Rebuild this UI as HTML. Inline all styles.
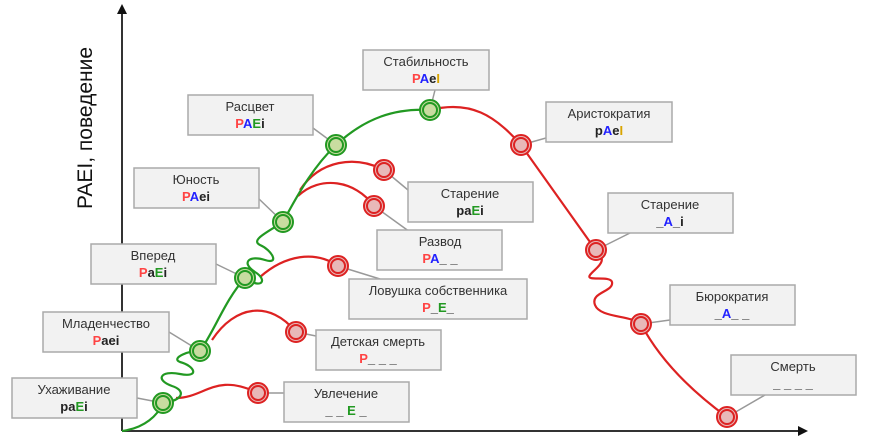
<!DOCTYPE html>
<html><head><meta charset="utf-8"><style>
body{margin:0;background:#fff}
svg text{font-family:"Liberation Sans","DejaVu Sans",sans-serif}
</style></head><body>
<svg width="871" height="440" viewBox="0 0 871 440" xmlns="http://www.w3.org/2000/svg">
<defs>
<marker id="ar" markerWidth="10" markerHeight="10" refX="8" refY="5" orient="auto" markerUnits="userSpaceOnUse"><path d="M0,0 L10,5 L0,10 Z" fill="#111"/></marker>
</defs>
<!-- axes -->
<line x1="122" y1="431" x2="122" y2="6" stroke="#333" stroke-width="2" marker-end="url(#ar)"/>
<line x1="122" y1="431" x2="806" y2="431" stroke="#333" stroke-width="2" marker-end="url(#ar)"/>
<text transform="translate(92,128) rotate(-90)" font-size="21" text-anchor="middle" fill="#111">PAEI, поведение</text>

<!-- connectors -->
<g stroke="#999" stroke-width="1.5">
<line x1="137" y1="398" x2="163" y2="403"/>
<line x1="169" y1="332" x2="200" y2="351"/>
<line x1="216" y1="264" x2="245" y2="278"/>
<line x1="258" y1="198" x2="283" y2="222"/>
<line x1="313" y1="128" x2="336" y2="145"/>
<line x1="435" y1="90" x2="430" y2="110"/>
<line x1="546" y1="138" x2="521" y2="145"/>
<line x1="384" y1="170" x2="408" y2="190"/>
<line x1="374" y1="206" x2="410" y2="232"/>
<line x1="338" y1="266" x2="380" y2="279"/>
<line x1="296" y1="332" x2="316" y2="336"/>
<line x1="258" y1="393" x2="284" y2="393"/>
<line x1="596" y1="250" x2="630" y2="233"/>
<line x1="641" y1="324" x2="670" y2="320"/>
<line x1="727" y1="417" x2="765" y2="395"/>
</g>

<!-- red branches -->
<g fill="none" stroke="#d22" stroke-width="2.2">
<path d="M176,398 C205,398 215,372 258,393"/>
<path d="M212,340 C235,305 270,300 296,332"/>
<path d="M260,277 C285,255 315,250 338,266"/>
<path d="M300,190 C320,160 355,155 384,170"/>
<path d="M298,196 C320,175 355,180 374,206"/>
<path d="M430,110 C470,100 495,115 521,145 L590,242"/>
<path d="M596,250 C610,262 595,268 590,275 C585,282 610,275 612,282 C614,292 590,292 595,305 C600,318 630,315 641,324"/>
<path d="M641,324 C660,360 690,390 727,417"/>
</g>
<!-- green main -->
<g fill="none" stroke="#229922" stroke-width="2.2">
<path d="M122,431 C145,428 158,415 163,403"/>
<path d="M163,403 C185,400 185,390 172,386 C155,380 160,370 180,374 C200,378 195,366 180,362 C170,358 190,350 200,351"/>
<path d="M200,351 C215,330 225,300 245,278"/>
<path d="M245,278 C262,290 268,280 255,272 C240,262 250,255 265,260 C280,265 272,250 260,245 C250,240 268,232 283,222"/>
<path d="M283,222 C300,190 315,165 336,145 C365,118 395,108 430,110"/>
</g>

<!-- nodes -->
<g stroke-width="2">
<g fill="#c8dca0" stroke="#229922">
<circle cx="163" cy="403" r="10"/><circle cx="163" cy="403" r="7"/>
<circle cx="200" cy="351" r="10"/><circle cx="200" cy="351" r="7"/>
<circle cx="245" cy="278" r="10"/><circle cx="245" cy="278" r="7"/>
<circle cx="283" cy="222" r="10"/><circle cx="283" cy="222" r="7"/>
<circle cx="336" cy="145" r="10"/><circle cx="336" cy="145" r="7"/>
<circle cx="430" cy="110" r="10"/><circle cx="430" cy="110" r="7"/>
</g>
<g fill="#e8b8b8" stroke="#d22">
<circle cx="258" cy="393" r="10"/><circle cx="258" cy="393" r="7"/>
<circle cx="296" cy="332" r="10"/><circle cx="296" cy="332" r="7"/>
<circle cx="338" cy="266" r="10"/><circle cx="338" cy="266" r="7"/>
<circle cx="374" cy="206" r="10"/><circle cx="374" cy="206" r="7"/>
<circle cx="384" cy="170" r="10"/><circle cx="384" cy="170" r="7"/>
<circle cx="521" cy="145" r="10"/><circle cx="521" cy="145" r="7"/>
<circle cx="596" cy="250" r="10"/><circle cx="596" cy="250" r="7"/>
<circle cx="641" cy="324" r="10"/><circle cx="641" cy="324" r="7"/>
<circle cx="727" cy="417" r="10"/><circle cx="727" cy="417" r="7"/>
</g>
</g>

<!-- boxes -->
<g fill="#f2f2f2" stroke="#aaa" stroke-width="1.5">
<rect x="12" y="378" width="125" height="40"/>
<rect x="43" y="312" width="126" height="40"/>
<rect x="91" y="244" width="125" height="40"/>
<rect x="134" y="168" width="125" height="40"/>
<rect x="188" y="95" width="125" height="40"/>
<rect x="363" y="50" width="126" height="40"/>
<rect x="546" y="102" width="126" height="40"/>
<rect x="408" y="182" width="125" height="40"/>
<rect x="377" y="230" width="125" height="40"/>
<rect x="349" y="279" width="178" height="40"/>
<rect x="316" y="330" width="125" height="40"/>
<rect x="284" y="382" width="125" height="40"/>
<rect x="608" y="193" width="125" height="40"/>
<rect x="670" y="285" width="125" height="40"/>
<rect x="731" y="355" width="125" height="40"/>
</g>

<g font-size="13" text-anchor="middle" fill="#333">
<text x="74" y="394">Ухаживание</text>
<text x="106" y="328">Младенчество</text>
<text x="153" y="260">Вперед</text>
<text x="196" y="184">Юность</text>
<text x="250" y="111">Расцвет</text>
<text x="426" y="66">Стабильность</text>
<text x="609" y="118">Аристократия</text>
<text x="470" y="198">Старение</text>
<text x="440" y="246">Развод</text>
<text x="438" y="295">Ловушка собственника</text>
<text x="378" y="346">Детская смерть</text>
<text x="346" y="398">Увлечение</text>
<text x="670" y="209">Старение</text>
<text x="732" y="301">Бюрократия</text>
<text x="793" y="371">Смерть</text>
</g>
<g font-size="13" font-weight="bold" text-anchor="middle" fill="#222">
<text x="74" y="411">pa<tspan fill="#229922">E</tspan>i</text>
<text x="106" y="345"><tspan fill="#f44">P</tspan>aei</text>
<text x="153" y="277"><tspan fill="#f44">P</tspan>a<tspan fill="#229922">E</tspan>i</text>
<text x="196" y="201"><tspan fill="#f44">P</tspan><tspan fill="#22f">A</tspan>ei</text>
<text x="250" y="128"><tspan fill="#f44">P</tspan><tspan fill="#22f">A</tspan><tspan fill="#229922">E</tspan>i</text>
<text x="426" y="83"><tspan fill="#f44">P</tspan><tspan fill="#22f">A</tspan>e<tspan fill="#d9a500">I</tspan></text>
<text x="609" y="135">p<tspan fill="#22f">A</tspan>e<tspan fill="#d9a500">I</tspan></text>
<text x="470" y="215">pa<tspan fill="#229922">E</tspan>i</text>
<text x="440" y="263"><tspan fill="#f44">P</tspan><tspan fill="#22f">A</tspan>_ _</text>
<text x="438" y="312"><tspan fill="#f44">P</tspan>_<tspan fill="#229922">E</tspan>_</text>
<text x="378" y="363"><tspan fill="#f44">P</tspan>_ _ _</text>
<text x="346" y="415">_ _ <tspan fill="#229922">E</tspan> _</text>
<text x="670" y="226">_<tspan fill="#22f">A</tspan>_i</text>
<text x="732" y="318">_<tspan fill="#22f">A</tspan>_ _</text>
<text x="793" y="388">_ _ _ _</text>
</g>
</svg>
</body></html>
